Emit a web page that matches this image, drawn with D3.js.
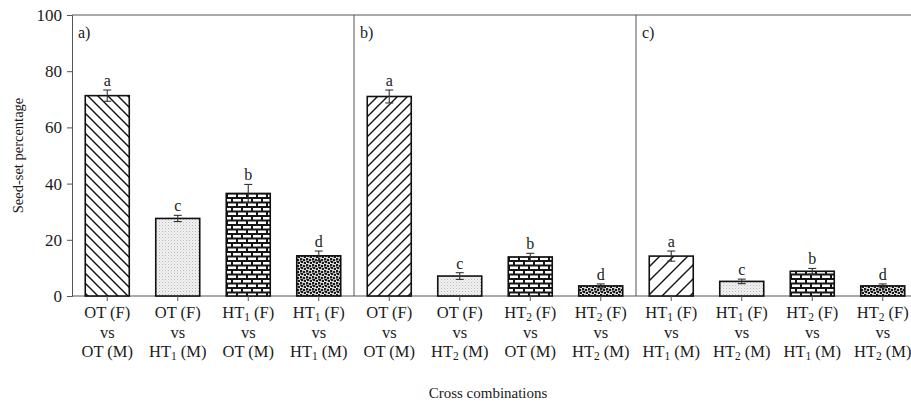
<!DOCTYPE html>
<html>
<head>
<meta charset="utf-8">
<script src="https://cdn.jsdelivr.net/npm/d3@7"></script>
<style>
  html, body { margin: 0; padding: 0; background: #fff; }
  svg { display: block; }
  text { font-family: "Liberation Serif", "Times New Roman", serif; fill: #1a1a1a; }
</style>
</head>
<body>
<svg id="chart" width="911" height="408"></svg>
<script>
// ---------------- data ----------------
const panels = ["a)", "b)", "c)"];
const barKeys = ["1", "2", "3", "4"];
// crosses: [female genotype, male genotype]
const crossesA = [["OT", "OT"], ["OT", "HT1"], ["HT1", "OT"], ["HT1", "HT1"]];
const crossesB = [["OT", "OT"], ["OT", "HT2"], ["HT2", "OT"], ["HT2", "HT2"]];
const crossesC = [["HT1", "HT1"], ["HT1", "HT2"], ["HT2", "HT1"], ["HT2", "HT2"]];
const valuesA = [71.3, 27.6, 36.5, 14.3];
const valuesB = [71.0, 7.1, 13.9, 3.6];
const valuesC = [14.2, 5.2, 8.8, 3.6];
const errorsA = [2.0, 1.1, 3.2, 1.7];
const errorsB = [2.3, 1.2, 1.3, 0.7];
const errorsC = [1.8, 0.8, 1.0, 0.7];
const lettersA = ["a", "c", "b", "d"];
const lettersB = ["a", "c", "b", "d"];
const lettersC = ["a", "c", "b", "d"];
const yTicks = [0, 20, 40, 60, 80, 100];
const yTitle = "Seed-set percentage";
const xTitle = "Cross combinations";

const panelData = [
  { id: panels[0], crosses: crossesA, values: valuesA, errors: errorsA, letters: lettersA, first: "hatchBack" },
  { id: panels[1], crosses: crossesB, values: valuesB, errors: errorsB, letters: lettersB, first: "hatchFwd" },
  { id: panels[2], crosses: crossesC, values: valuesC, errors: errorsC, letters: lettersC, first: "hatchFwdWide" }
];
const otherFills = ["stipple", "brick", "dots"];

// ---------------- layout ----------------
const svg = d3.select("#chart");
const plotLeft = 72, plotTop = 15, plotBottom = 296, panelW = 282;

const y = d3.scaleLinear().domain([0, 100]).range([plotBottom, plotTop]);
const xPanel = d3.scaleBand().domain(panels).range([plotLeft, plotLeft + panelW * 3]).padding(0);
const xBar = d3.scaleBand().domain(barKeys).range([0, panelW]).paddingInner(0.376).paddingOuter(0.188);

// ---------------- patterns ----------------
const defs = svg.append("defs");
function hatch(id, size, dir) {
  const p = defs.append("pattern").attr("id", id).attr("patternUnits", "userSpaceOnUse")
    .attr("width", size).attr("height", size);
  p.append("rect").attr("width", size).attr("height", size).attr("fill", "#fff");
  const d = dir === "back"
    ? `M0,0 L${size},${size} M${-size},0 L${size},${2*size} M0,${-size} L${2*size},${size}`
    : `M0,${size} L${size},0 M${-size},${size} L${size},${-size} M0,${2*size} L${2*size},0`;
  p.append("path").attr("d", d).attr("stroke", "#111").attr("stroke-width", 1.4);
}
hatch("hatchBack", 10, "back");
hatch("hatchFwd", 10, "fwd");
hatch("hatchFwdWide", 14, "fwd");

(function () {
  const p = defs.append("pattern").attr("id", "stipple").attr("patternUnits", "userSpaceOnUse")
    .attr("width", 3).attr("height", 3);
  p.append("rect").attr("width", 3).attr("height", 3).attr("fill", "#f2f2f2");
  p.append("rect").attr("x", 0).attr("y", 0).attr("width", 1).attr("height", 1).attr("fill", "#b8b8b8");
  p.append("rect").attr("x", 1.5).attr("y", 1.5).attr("width", 1).attr("height", 1).attr("fill", "#cbcbcb");
})();
(function () {
  const p = defs.append("pattern").attr("id", "brick").attr("patternUnits", "userSpaceOnUse")
    .attr("width", 10).attr("height", 9);
  p.append("rect").attr("width", 10).attr("height", 9).attr("fill", "#151515");
  p.append("rect").attr("x", 1).attr("y", 1).attr("width", 8).attr("height", 2.5).attr("fill", "#fff");
  p.append("rect").attr("x", -4).attr("y", 5.5).attr("width", 8).attr("height", 2.5).attr("fill", "#fff");
  p.append("rect").attr("x", 6).attr("y", 5.5).attr("width", 8).attr("height", 2.5).attr("fill", "#fff");
})();
(function () {
  const p = defs.append("pattern").attr("id", "dots").attr("patternUnits", "userSpaceOnUse")
    .attr("width", 6).attr("height", 6);
  p.append("rect").attr("width", 6).attr("height", 6).attr("fill", "#f2f2f2");
  [[1, 1], [4, 2], [2, 4], [5, 5]].forEach(([cx, cy]) =>
    p.append("circle").attr("cx", cx).attr("cy", cy).attr("r", 1.35).attr("fill", "#1a1a1a"));
  p.append("rect").attr("x", 0).attr("y", 2.5).attr("width", 1.5).attr("height", 1.2).attr("fill", "#1a1a1a");
})();

// ---------------- frame ----------------
const frameColor = "#555";
svg.append("line").attr("x1", plotLeft).attr("x2", 911).attr("y1", plotTop).attr("y2", plotTop)
  .attr("stroke", frameColor).attr("stroke-width", 1);
panels.slice(1).forEach(p => {
  svg.append("line").attr("x1", xPanel(p)).attr("x2", xPanel(p)).attr("y1", plotTop).attr("y2", plotBottom)
    .attr("stroke", frameColor).attr("stroke-width", 1);
});

// y axis
const yAxis = svg.append("g").attr("transform", `translate(${plotLeft},0)`)
  .call(d3.axisLeft(y).tickValues(yTicks).tickSize(5).tickPadding(5));
yAxis.select(".domain").attr("stroke", frameColor);
yAxis.selectAll(".tick line").attr("stroke", frameColor);
yAxis.selectAll("text").style("font-family", "Liberation Serif").style("font-size", "17px").attr("fill", "#1a1a1a");

// bottom axis line
svg.append("line").attr("x1", plotLeft).attr("x2", 911).attr("y1", plotBottom).attr("y2", plotBottom)
  .attr("stroke", frameColor).attr("stroke-width", 1);

// ---------------- panels ----------------
function genoText(sel, geno, sex) {
  const m = geno.match(/^([A-Z]+)(\d?)$/);
  sel.append("tspan").text(m[1]);
  if (m[2]) sel.append("tspan").attr("dy", 3).style("font-size", "11.5px").text(m[2]);
  sel.append("tspan").attr("dy", m[2] ? -3 : 0).text(" (" + sex + ")");
}

panelData.forEach(pd => {
  const g = svg.append("g").attr("transform", `translate(${xPanel(pd.id)},0)`);
  g.append("text").attr("x", 6).attr("y", 38).style("font-size", "16px").text(pd.id);

  barKeys.forEach((k, i) => {
    const x0 = xBar(k), bw = xBar.bandwidth(), cx = x0 + bw / 2;
    const v = pd.values[i], e = pd.errors[i];
    const fill = i === 0 ? pd.first : otherFills[i - 1];
    g.append("rect").attr("x", x0).attr("y", y(v)).attr("width", bw).attr("height", y(0) - y(v))
      .attr("fill", `url(#${fill})`).attr("stroke", "#111").attr("stroke-width", 1.6);
    // error bar
    const eg = g.append("g").attr("stroke", "#333").attr("stroke-width", 1.1);
    eg.append("line").attr("x1", cx).attr("x2", cx).attr("y1", y(v + e)).attr("y2", y(v - e));
    eg.append("line").attr("x1", cx - 4).attr("x2", cx + 4).attr("y1", y(v + e)).attr("y2", y(v + e));
    eg.append("line").attr("x1", cx - 4).attr("x2", cx + 4).attr("y1", y(v - e)).attr("y2", y(v - e));
    // significance letter
    g.append("text").attr("x", cx).attr("y", y(v + e) - 4).attr("text-anchor", "middle")
      .style("font-size", "16px").text(pd.letters[i]);
    // x tick
    g.append("line").attr("x1", cx).attr("x2", cx).attr("y1", plotBottom).attr("y2", plotBottom + 5)
      .attr("stroke", frameColor);
    // label lines
    const [f, m] = pd.crosses[i];
    const t1 = g.append("text").attr("x", cx).attr("y", 318).attr("text-anchor", "middle").style("font-size", "16.5px");
    genoText(t1, f, "F");
    g.append("text").attr("x", cx).attr("y", 338).attr("text-anchor", "middle").style("font-size", "16.5px").text("vs");
    const t3 = g.append("text").attr("x", cx).attr("y", 356.5).attr("text-anchor", "middle").style("font-size", "16.5px");
    genoText(t3, m, "M");
  });
});

// ---------------- titles ----------------
svg.append("text").attr("transform", `translate(23,${(plotTop + plotBottom) / 2}) rotate(-90)`)
  .attr("text-anchor", "middle").style("font-size", "14.5px").text(yTitle);
svg.append("text").attr("x", 488).attr("y", 398).attr("text-anchor", "middle")
  .style("font-size", "15px").text(xTitle);
</script>
</body>
</html>
